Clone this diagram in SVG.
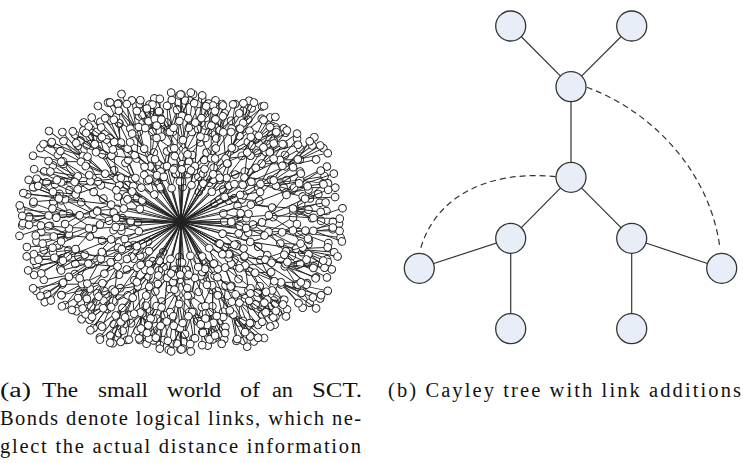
<svg xmlns="http://www.w3.org/2000/svg" width="743" height="463" viewBox="0 0 743 463">
<style>
.bl{fill:none;stroke:#222;stroke-width:0.9}
.bc circle{fill:#fff;stroke:#222;stroke-width:1;r:3.8px}
.edge{stroke:#333;stroke-width:1.2;fill:none}
.dash{stroke:#333;stroke-width:1.2;fill:none;stroke-dasharray:6 4}
.node circle{fill:#e8eef8;stroke:#333;stroke-width:1.3}
.cap{font-family:"Liberation Serif","DejaVu Serif","Times New Roman",serif;font-size:20.5px;fill:#111}
</style>
<defs>
<g id="bL">
<path class="bl" d="M0 0L72 0M0 0L42 -10M0 0L64 12M72 0L112 -14M72 0L118 6M72 0L100 18M72 0L92 -8M112 -14L138 -24M112 -14L145 -16M112 -14L140 -6M112 -14L128 -28M118 6L152 2M118 6L160 10M118 6L148 16M118 6L158 -4M100 18L122 26M100 18L128 18M100 18L112 30M42 -10L56 -18M42 -10L60 -6M64 12L78 22M64 12L84 10"/>
<g class="bc">
<circle cx="72" cy="0" r="3.8"/><circle cx="112" cy="-14" r="3.8"/><circle cx="118" cy="6" r="3.8"/><circle cx="100" cy="18" r="3.8"/>
<circle cx="138" cy="-24" r="3.8"/><circle cx="145" cy="-16" r="3.8"/><circle cx="140" cy="-6" r="3.8"/><circle cx="128" cy="-28" r="3.8"/>
<circle cx="152" cy="2" r="3.8"/><circle cx="160" cy="10" r="3.8"/><circle cx="148" cy="16" r="3.8"/><circle cx="158" cy="-4" r="3.8"/>
<circle cx="122" cy="26" r="3.8"/><circle cx="128" cy="18" r="3.8"/><circle cx="112" cy="30" r="3.8"/><circle cx="92" cy="-8" r="3.8"/>
<circle cx="42" cy="-10" r="3.8"/><circle cx="56" cy="-18" r="3.8"/><circle cx="60" cy="-6" r="3.8"/>
<circle cx="64" cy="12" r="3.8"/><circle cx="78" cy="22" r="3.8"/><circle cx="84" cy="10" r="3.8"/>
</g>
</g>
<g id="bM">
<path class="bl" d="M0 0L63.4 0M0 0L37 -10M0 0L56.3 12M63.4 0L98.6 -14M63.4 0L103.8 6M63.4 0L88 18M63.4 0L81 -8M98.6 -14L121.4 -24M98.6 -14L127.6 -16M98.6 -14L123.2 -6M98.6 -14L112.6 -28M103.8 6L133.8 2M103.8 6L140.8 10M103.8 6L130.2 16M103.8 6L139 -4M88 18L107.4 26M88 18L112.6 18M88 18L98.6 30M37 -10L49.3 -18M37 -10L52.8 -6M56.3 12L68.6 22M56.3 12L73.9 10"/>
<g class="bc">
<circle cx="63.4" cy="0" r="3.8"/><circle cx="98.6" cy="-14" r="3.8"/><circle cx="103.8" cy="6" r="3.8"/><circle cx="88" cy="18" r="3.8"/>
<circle cx="121.4" cy="-24" r="3.8"/><circle cx="127.6" cy="-16" r="3.8"/><circle cx="123.2" cy="-6" r="3.8"/><circle cx="112.6" cy="-28" r="3.8"/>
<circle cx="133.8" cy="2" r="3.8"/><circle cx="140.8" cy="10" r="3.8"/><circle cx="130.2" cy="16" r="3.8"/><circle cx="139" cy="-4" r="3.8"/>
<circle cx="107.4" cy="26" r="3.8"/><circle cx="112.6" cy="18" r="3.8"/><circle cx="98.6" cy="30" r="3.8"/><circle cx="81" cy="-8" r="3.8"/>
<circle cx="37" cy="-10" r="3.8"/><circle cx="49.3" cy="-18" r="3.8"/><circle cx="52.8" cy="-6" r="3.8"/>
<circle cx="56.3" cy="12" r="3.8"/><circle cx="68.6" cy="22" r="3.8"/><circle cx="73.9" cy="10" r="3.8"/>
</g>
</g>
<g id="bS">
<path class="bl" d="M0 0L57.6 0M0 0L33.6 -10M0 0L51.2 12M57.6 0L89.6 -14M57.6 0L94.4 6M57.6 0L80 18M57.6 0L73.6 -8M89.6 -14L110.4 -24M89.6 -14L116 -16M89.6 -14L112 -6M89.6 -14L102.4 -28M94.4 6L121.6 2M94.4 6L128 10M94.4 6L118.4 16M94.4 6L126.4 -4M80 18L97.6 26M80 18L102.4 18M80 18L89.6 30M33.6 -10L44.8 -18M33.6 -10L48 -6M51.2 12L62.4 22M51.2 12L67.2 10"/>
<g class="bc">
<circle cx="57.6" cy="0" r="3.8"/><circle cx="89.6" cy="-14" r="3.8"/><circle cx="94.4" cy="6" r="3.8"/><circle cx="80" cy="18" r="3.8"/>
<circle cx="110.4" cy="-24" r="3.8"/><circle cx="116" cy="-16" r="3.8"/><circle cx="112" cy="-6" r="3.8"/><circle cx="102.4" cy="-28" r="3.8"/>
<circle cx="121.6" cy="2" r="3.8"/><circle cx="128" cy="10" r="3.8"/><circle cx="118.4" cy="16" r="3.8"/><circle cx="126.4" cy="-4" r="3.8"/>
<circle cx="97.6" cy="26" r="3.8"/><circle cx="102.4" cy="18" r="3.8"/><circle cx="89.6" cy="30" r="3.8"/><circle cx="73.6" cy="-8" r="3.8"/>
<circle cx="33.6" cy="-10" r="3.8"/><circle cx="44.8" cy="-18" r="3.8"/><circle cx="48" cy="-6" r="3.8"/>
<circle cx="51.2" cy="12" r="3.8"/><circle cx="62.4" cy="22" r="3.8"/><circle cx="67.2" cy="10" r="3.8"/>
</g>
</g>
<g id="cL">
<path class="bl" d="M0 0L88 4M0 0L50 6M88 4L126 -8M88 4L132 12M88 4L110 22M88 4L108 -14M126 -8L150 -14M126 -8L156 -6M126 -8L146 -20M132 12L158 16M132 12L150 24M132 12L162 6M110 22L124 32M110 22L116 36M108 -14L122 -24M108 -14L130 -20M50 6L64 14M50 6L68 0"/>
<g class="bc">
<circle cx="88" cy="4" r="3.8"/><circle cx="50" cy="6" r="3.8"/><circle cx="126" cy="-8" r="3.8"/><circle cx="132" cy="12" r="3.8"/><circle cx="110" cy="22" r="3.8"/><circle cx="108" cy="-14" r="3.8"/>
<circle cx="150" cy="-14" r="3.8"/><circle cx="156" cy="-6" r="3.8"/><circle cx="146" cy="-20" r="3.8"/>
<circle cx="158" cy="16" r="3.8"/><circle cx="150" cy="24" r="3.8"/><circle cx="162" cy="6" r="3.8"/>
<circle cx="124" cy="32" r="3.8"/><circle cx="116" cy="36" r="3.8"/><circle cx="122" cy="-24" r="3.8"/><circle cx="130" cy="-20" r="3.8"/>
<circle cx="64" cy="14" r="3.8"/><circle cx="68" cy="0" r="3.8"/>
</g>
</g>
<g id="cM">
<path class="bl" d="M0 0L77.4 4M0 0L44 6M77.4 4L110.9 -8M77.4 4L116.2 12M77.4 4L96.8 22M77.4 4L95 -14M110.9 -8L132 -14M110.9 -8L137.3 -6M110.9 -8L128.5 -20M116.2 12L139 16M116.2 12L132 24M116.2 12L142.6 6M96.8 22L109.1 32M96.8 22L102.1 36M95 -14L107.4 -24M95 -14L114.4 -20M44 6L56.3 14M44 6L59.8 0"/>
<g class="bc">
<circle cx="77.4" cy="4" r="3.8"/><circle cx="44" cy="6" r="3.8"/><circle cx="110.9" cy="-8" r="3.8"/><circle cx="116.2" cy="12" r="3.8"/><circle cx="96.8" cy="22" r="3.8"/><circle cx="95" cy="-14" r="3.8"/>
<circle cx="132" cy="-14" r="3.8"/><circle cx="137.3" cy="-6" r="3.8"/><circle cx="128.5" cy="-20" r="3.8"/>
<circle cx="139" cy="16" r="3.8"/><circle cx="132" cy="24" r="3.8"/><circle cx="142.6" cy="6" r="3.8"/>
<circle cx="109.1" cy="32" r="3.8"/><circle cx="102.1" cy="36" r="3.8"/><circle cx="107.4" cy="-24" r="3.8"/><circle cx="114.4" cy="-20" r="3.8"/>
<circle cx="56.3" cy="14" r="3.8"/><circle cx="59.8" cy="0" r="3.8"/>
</g>
</g>
<g id="cS">
<path class="bl" d="M0 0L70.4 4M0 0L40 6M70.4 4L100.8 -8M70.4 4L105.6 12M70.4 4L88 22M70.4 4L86.4 -14M100.8 -8L120 -14M100.8 -8L124.8 -6M100.8 -8L116.8 -20M105.6 12L126.4 16M105.6 12L120 24M105.6 12L129.6 6M88 22L99.2 32M88 22L92.8 36M86.4 -14L97.6 -24M86.4 -14L104 -20M40 6L51.2 14M40 6L54.4 0"/>
<g class="bc">
<circle cx="70.4" cy="4" r="3.8"/><circle cx="40" cy="6" r="3.8"/><circle cx="100.8" cy="-8" r="3.8"/><circle cx="105.6" cy="12" r="3.8"/><circle cx="88" cy="22" r="3.8"/><circle cx="86.4" cy="-14" r="3.8"/>
<circle cx="120" cy="-14" r="3.8"/><circle cx="124.8" cy="-6" r="3.8"/><circle cx="116.8" cy="-20" r="3.8"/>
<circle cx="126.4" cy="16" r="3.8"/><circle cx="120" cy="24" r="3.8"/><circle cx="129.6" cy="6" r="3.8"/>
<circle cx="99.2" cy="32" r="3.8"/><circle cx="92.8" cy="36" r="3.8"/><circle cx="97.6" cy="-24" r="3.8"/><circle cx="104" cy="-20" r="3.8"/>
<circle cx="51.2" cy="14" r="3.8"/><circle cx="54.4" cy="0" r="3.8"/>
</g>
</g>
</defs>

<!-- (a) small world of an SCT -->
<g id="sct" transform="translate(181,222)">
<use href="#bL" transform="rotate(2)"/>
<use href="#cL" transform="rotate(9) scale(1,-1)"/>
<use href="#bL" transform="rotate(16) scale(1,-1)"/>
<use href="#cL" transform="rotate(23)"/>
<use href="#bL" transform="rotate(29)"/>
<use href="#cM" transform="rotate(37) scale(1,-1)"/>
<use href="#bM" transform="rotate(46) scale(1,-1)"/>
<use href="#cM" transform="rotate(52)"/>
<use href="#bM" transform="rotate(58)"/>
<use href="#cS" transform="rotate(67) scale(1,-1)"/>
<use href="#bS" transform="rotate(76) scale(1,-1)"/>
<use href="#cS" transform="rotate(83)"/>
<use href="#bS" transform="rotate(91)"/>
<use href="#cS" transform="rotate(97) scale(1,-1)"/>
<use href="#bS" transform="rotate(104) scale(1,-1)"/>
<use href="#cS" transform="rotate(112)"/>
<use href="#bM" transform="rotate(121)"/>
<use href="#cM" transform="rotate(127) scale(1,-1)"/>
<use href="#bM" transform="rotate(134) scale(1,-1)"/>
<use href="#cM" transform="rotate(142)"/>
<use href="#bL" transform="rotate(151)"/>
<use href="#cL" transform="rotate(158) scale(1,-1)"/>
<use href="#bL" transform="rotate(166) scale(1,-1)"/>
<use href="#cL" transform="rotate(173)"/>
<use href="#bL" transform="rotate(181)"/>
<use href="#cL" transform="rotate(188) scale(1,-1)"/>
<use href="#bL" transform="rotate(194) scale(1,-1)"/>
<use href="#cL" transform="rotate(202)"/>
<use href="#bL" transform="rotate(211)"/>
<use href="#cM" transform="rotate(217) scale(1,-1)"/>
<use href="#bM" transform="rotate(224) scale(1,-1)"/>
<use href="#cM" transform="rotate(232)"/>
<use href="#bM" transform="rotate(241)"/>
<use href="#cS" transform="rotate(248) scale(1,-1)"/>
<use href="#bS" transform="rotate(256) scale(1,-1)"/>
<use href="#cS" transform="rotate(263)"/>
<use href="#bS" transform="rotate(271)"/>
<use href="#cS" transform="rotate(277) scale(1,-1)"/>
<use href="#bS" transform="rotate(284) scale(1,-1)"/>
<use href="#cS" transform="rotate(292)"/>
<use href="#bM" transform="rotate(301)"/>
<use href="#cM" transform="rotate(308) scale(1,-1)"/>
<use href="#bM" transform="rotate(316) scale(1,-1)"/>
<use href="#cM" transform="rotate(322)"/>
<use href="#bL" transform="rotate(329)"/>
<use href="#cL" transform="rotate(337) scale(1,-1)"/>
<use href="#bL" transform="rotate(346) scale(1,-1)"/>
<use href="#cL" transform="rotate(353)"/>
</g>

<!-- (b) Cayley tree -->
<g id="connectors">
<line class="edge" x1="510.7" y1="26" x2="571" y2="86.7"/>
<line class="edge" x1="631.7" y1="26" x2="571" y2="86.7"/>
<line class="edge" x1="571" y1="86.7" x2="571" y2="177.3"/>
<line class="edge" x1="571" y1="177.3" x2="510.7" y2="238.3"/>
<line class="edge" x1="571" y1="177.3" x2="631.7" y2="238.3"/>
<line class="edge" x1="510.7" y1="238.3" x2="419.3" y2="268.3"/>
<line class="edge" x1="510.7" y1="238.3" x2="510.7" y2="328.7"/>
<line class="edge" x1="631.7" y1="238.3" x2="721.7" y2="268.3"/>
<line class="edge" x1="631.7" y1="238.3" x2="631.7" y2="328.7"/>
<path class="dash" d="M586.7 87.3C650 110 710 170 720 248.5"/>
<path class="dash" d="M555.7 176.7C490 170 435 195 420 250.7"/>
</g>
<g id="n-top-left" class="node"><circle cx="510.7" cy="26" r="15"/></g>
<g id="n-top-right" class="node"><circle cx="631.7" cy="26" r="15"/></g>
<g id="n-upper" class="node"><circle cx="571" cy="86.7" r="15"/></g>
<g id="n-root" class="node"><circle cx="571" cy="177.3" r="15"/></g>
<g id="n-mid-left" class="node"><circle cx="510.7" cy="238.3" r="15"/></g>
<g id="n-mid-right" class="node"><circle cx="631.7" cy="238.3" r="15"/></g>
<g id="n-far-left" class="node"><circle cx="419.3" cy="268.3" r="15"/></g>
<g id="n-far-right" class="node"><circle cx="721.7" cy="268.3" r="15"/></g>
<g id="n-bottom-left" class="node"><circle cx="510.7" cy="328.7" r="15"/></g>
<g id="n-bottom-right" class="node"><circle cx="631.7" cy="328.7" r="15"/></g>

<!-- captions -->
<g id="caption-a" class="cap" font-family="Liberation Serif, DejaVu Serif, serif">
<text x="0" y="397" textLength="31" lengthAdjust="spacingAndGlyphs">(a)</text>
<text x="42" y="397" textLength="36" lengthAdjust="spacingAndGlyphs">The</text>
<text x="98" y="397" textLength="50" lengthAdjust="spacingAndGlyphs">small</text>
<text x="167" y="397" textLength="54" lengthAdjust="spacingAndGlyphs">world</text>
<text x="240" y="397" textLength="20" lengthAdjust="spacingAndGlyphs">of</text>
<text x="272" y="397" textLength="21" lengthAdjust="spacingAndGlyphs">an</text>
<text x="312" y="397" textLength="50" lengthAdjust="spacingAndGlyphs">SCT.</text>
<text x="0" y="425" textLength="361" lengthAdjust="spacing">Bonds denote logical links, which ne-</text>
<text x="0" y="453" textLength="361" lengthAdjust="spacing">glect the actual distance information</text>
</g>
<g id="caption-b" class="cap" font-family="Liberation Serif, DejaVu Serif, serif">
<text x="388" y="397" textLength="353" lengthAdjust="spacing">(b) Cayley tree with link additions</text>
</g>
</svg>
